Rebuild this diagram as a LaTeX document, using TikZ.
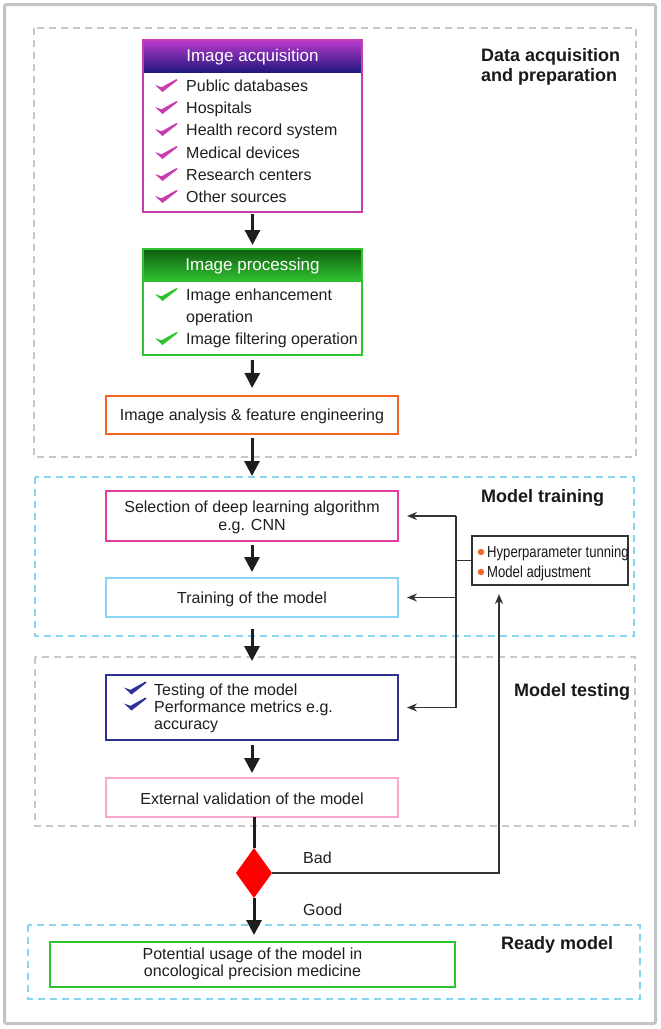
\documentclass[tikz,border=0pt]{standalone}
\usepackage{fontspec}
\setmainfont{Liberation Sans}
\newfontfamily\narrowfont[FakeStretch=0.82]{Liberation Sans}
\usetikzlibrary{shapes.geometric,arrows.meta}
\definecolor{framegray}{HTML}{C4C4C4}
\definecolor{dashgray}{HTML}{C8C8C8}
\definecolor{dashcyan}{HTML}{8AD4F2}
\definecolor{acqc}{HTML}{C83CAE}
\definecolor{acqtop}{HTML}{B83ACB}
\definecolor{acqbot}{HTML}{22187F}
\definecolor{procc}{HTML}{2EC42E}
\definecolor{proctop}{HTML}{0F5F0F}
\definecolor{procbot}{HTML}{30C030}
\definecolor{anac}{HTML}{F26522}
\definecolor{selc}{HTML}{E6399B}
\definecolor{trainc}{HTML}{8DD3F5}
\definecolor{testc}{HTML}{2E3192}
\definecolor{extc}{HTML}{F6A8CC}
\definecolor{readyc}{HTML}{2EC42E}
\definecolor{arrowc}{HTML}{1E1E1E}
\definecolor{fbc}{HTML}{333333}
\definecolor{bulletc}{HTML}{F26522}
\tikzset{
  txt/.style={font=\fontsize{16}{18}\selectfont, inner sep=0pt, text=black!88},
  ttl/.style={font=\fontsize{17}{20}\selectfont, inner sep=0pt, text=white, anchor=base},
  lbl/.style={font=\bfseries\fontsize{18}{20}\selectfont, inner sep=0pt, anchor=base west, text=black!90},
  hyptxt/.style={font=\narrowfont\fontsize{16}{18}\selectfont, inner sep=0pt, anchor=base west, text=black!90},
  box/.style={draw, line width=2pt, fill=white, inner sep=0pt, outer sep=0pt},
  dashbox/.style={dash pattern=on 7pt off 5pt, line width=1.3pt},
  mainarr/.style={line width=3pt, draw=arrowc, -{Triangle[width=15pt,length=15pt]}},
  fbarr/.style={line width=1.5pt, draw=fbc, -{Stealth[width=8pt,length=10pt]}},
  fbline/.style={line width=1.5pt, draw=fbc},
}
\newcommand{\chkmark}[3]{\fill[#3, shift={(#1,#2)}] (0,-0.5) -- (6.5,1.8) -- (21.5,-6.5) -- (22.5,-5.3) -- (7.5,6.5) -- cycle;}
\begin{document}
\begin{tikzpicture}[x=1pt,y=-1pt]
\useasboundingbox (0,0) rectangle (661,1029);
\fill[white] (0,0) rectangle (661,1029);
\draw[framegray, line width=3pt, rounded corners=2pt] (4.5,4.5) rectangle (655.5,1023.5);

% dashed regions
\draw[dashbox, dashgray] (34,28) rectangle (636,457);
\draw[dashbox, dashcyan] (35,477) rectangle (634,636);
\draw[dashbox, dashgray] (35,657) rectangle (635,826);
\draw[dashbox, dashcyan] (28,925) rectangle (640,999);

% region labels
\node[lbl] (l1a) at (481,61.5) {Data acquisition};
\node[lbl] (l1b) at (481,81.5) {and preparation};
\node[lbl] (l2) at (481,502.5) {Model training};
\node[lbl] (l3) at (514,696.5) {Model testing};
\node[lbl] (l4) at (501,949.5) {Ready model};

% Image acquisition
\node[box, draw=acqc, minimum width=219pt, minimum height=172pt] (acq) at (252.5,126) {};
\shade[top color=acqtop, bottom color=acqbot] (acq.north west) rectangle ([yshift=-32pt]acq.north east);
\draw[acqc, line width=2pt] (acq.north west) rectangle (acq.south east);
\node[ttl] (acqt) at (252.5,61) {Image acquisition};
\foreach \t/\yy [count=\i] in {Public databases/86, Hospitals/108, Health record system/130, Medical devices/153, Research centers/175, Other sources/197}{
  \node[txt, anchor=base west] (a\i) at (186,\yy+5.7) {\t};
  \chkmark{155}{\yy-0.5}{acqc}
}

% Image processing
\node[box, draw=procc, minimum width=219pt, minimum height=106pt] (proc) at (252.5,302) {};
\shade[top color=proctop, bottom color=procbot] (proc.north west) rectangle ([yshift=-32pt]proc.north east);
\draw[procc, line width=2pt] (proc.north west) rectangle (proc.south east);
\node[ttl] (proct) at (252.5,270) {Image processing};
\node[txt, anchor=base west] (p1) at (186,300.7) {Image enhancement};
\node[txt, anchor=base west] (p2) at (186,322.7) {operation};
\node[txt, anchor=base west] (p3) at (186,344.7) {Image filtering operation};
\chkmark{155}{294.5}{procc}
\chkmark{155}{338.5}{procc}

% Image analysis
\node[box, draw=anac, minimum width=292pt, minimum height=38pt] (ana) at (252,415) {};
\node[txt, anchor=base] (anat) at (252,420.7) {Image analysis \& feature engineering};

% Selection
\node[box, draw=selc, minimum width=292pt, minimum height=50pt] (sel) at (252,516) {};
\node[txt, anchor=base] (sel1) at (252,512.7) {Selection of deep learning algorithm};
\node[txt, anchor=base] (sel2) at (252,530.7) {e.g. CNN};

% Training
\node[box, draw=trainc, minimum width=292pt, minimum height=39pt] (train) at (252,597.5) {};
\node[txt, anchor=base] (traint) at (252,603.7) {Training of the model};

% Testing
\node[box, draw=testc, minimum width=292pt, minimum height=65pt] (test) at (252,707.5) {};
\node[txt, anchor=base west] (t1) at (154,695.7) {Testing of the model};
\node[txt, anchor=base west] (t2) at (154,712.7) {Performance metrics e.g.};
\node[txt, anchor=base west] (t3) at (154,729.7) {accuracy};
\chkmark{124}{688}{testc}
\chkmark{124}{704}{testc}

% External validation
\node[box, draw=extc, minimum width=292pt, minimum height=39pt] (ext) at (252,797.5) {};
\node[txt, anchor=base] (extt) at (252,804.7) {External validation of the model};

% Hyperparameter box
\node[box, draw=fbc, line width=1.5pt, minimum width=156pt, minimum height=49pt] (hyp) at (550,560.5) {};
\fill[bulletc] (481,552) circle (3.2pt);
\fill[bulletc] (481,572) circle (3.2pt);
\node[hyptxt] (h1) at (487,557.7) {Hyperparameter tunning};
\node[hyptxt] (h2) at (487,577.7) {Model adjustment};

% Decision diamond
\node[diamond, fill=red, minimum width=36pt, minimum height=50pt, inner sep=0pt, outer sep=0pt] (dia) at (254,873) {};

% Ready box
\node[box, draw=readyc, minimum width=405pt, minimum height=45pt] (ready) at (252.5,964.5) {};
\node[txt, anchor=base] (r1) at (252.5,959.7) {Potential usage of the model in};
\node[txt, anchor=base] (r2) at (252.5,976.7) {oncological precision medicine};

% main arrows
\draw[mainarr, shorten <=2pt, shorten >=4pt] (acq.south) -- (proc.north);
\draw[mainarr, shorten <=5pt, shorten >=8pt] (proc.south) -- (ana.north);
\draw[mainarr, shorten <=4pt, shorten >=15pt] (ana.south) -- (sel.north);
\draw[mainarr, shorten <=4pt, shorten >=6pt] (sel.south) -- (train.north);
\draw[mainarr, shorten <=12pt, shorten >=14pt] (train.south) -- (test.north);
\draw[mainarr, shorten <=5pt, shorten >=5pt] (test.south) -- (ext.north);
\draw[line width=3pt, draw=arrowc] (dia.north |- ext.south) -- (dia.north);
\draw[mainarr, shorten >=7pt] (dia.south) -- (dia.south |- ready.north);

% feedback
\coordinate (fbtop) at (456,516);
\coordinate (fbmid) at (456,560.5);
\coordinate (fbbot) at (456,707.5);
\coordinate (badc) at (499,873);
\draw[fbline] (fbtop) -- (fbbot);
\draw[fbline] (hyp.west) -- (fbmid);
\draw[fbarr, shorten >=9pt] (fbtop) -- (sel.east);
\draw[fbarr, shorten >=9pt] (456,597.5) -- (train.east);
\draw[fbarr, shorten >=9pt] (fbbot) -- (test.east);
\draw[fbarr, shorten >=9pt] (dia.east) -- (badc) -- (badc |- hyp.south);

\node[txt, anchor=base west] (bad) at (303,863.7) {Bad};
\node[txt, anchor=base west] (good) at (303,915.7) {Good};
\end{tikzpicture}
\end{document}
